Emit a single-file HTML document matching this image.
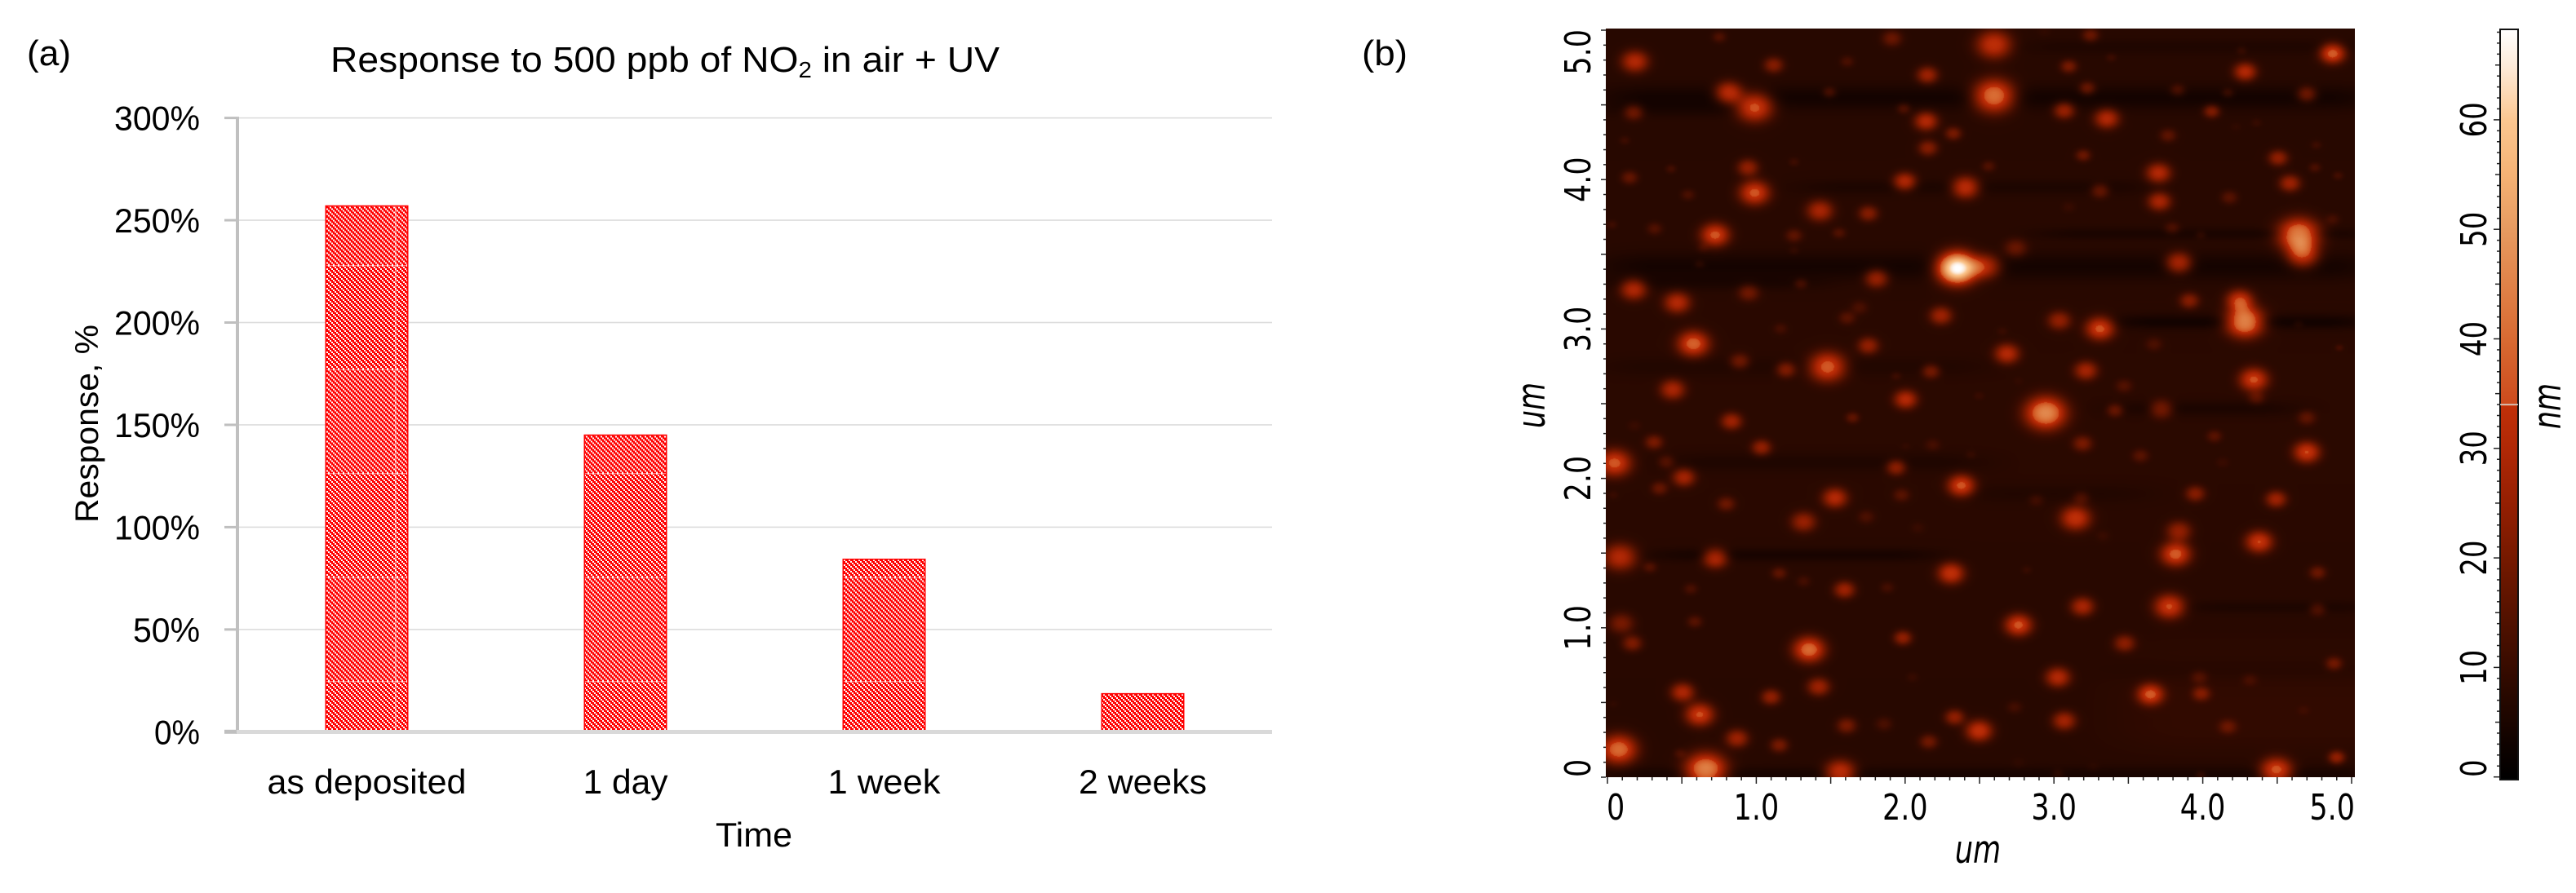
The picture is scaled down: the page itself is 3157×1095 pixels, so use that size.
<!DOCTYPE html>
<html lang="en">
<head>
<meta charset="utf-8">
<title>NO2 response and AFM height map</title>
<style>
html,body{margin:0;padding:0;background:#fff;}
#stage{position:relative;width:3157px;height:1095px;overflow:hidden;background:#fff;}
#afm-canvas{position:absolute;left:1968px;top:35px;width:918px;height:918px;}
#overlay{position:absolute;left:0;top:0;}
text{fill:#000;}
.cal{font-family:"Liberation Sans",sans-serif;}
.dv{font-family:"DejaVu Sans",sans-serif;}
</style>
</head>
<body>
<div id="stage">
<canvas id="afm-canvas" width="918" height="918"></canvas>
<svg id="overlay" width="3157" height="1095" viewBox="0 0 3157 1095" xmlns="http://www.w3.org/2000/svg">
<defs>
<pattern id="hatch" width="6" height="6" patternUnits="userSpaceOnUse">
<rect width="6" height="6" fill="#ff0000"/>
<rect x="0" y="0" width="2" height="2" fill="#fff"/>
<rect x="2" y="2" width="2" height="2" fill="#fff"/>
<rect x="4" y="4" width="2" height="2" fill="#fff"/>
</pattern>
<pattern id="hatch-seamed" x="0" y="70" width="1000" height="127.5" patternUnits="userSpaceOnUse">
<rect width="1000" height="127.5" fill="url(#hatch)"/>
<rect x="0" y="0" width="1000" height="1.2" fill="#fff" opacity="0.5"/>
<rect x="484" y="0" width="1.5" height="127.5" fill="#fff" opacity="0.5"/>
</pattern>
<linearGradient id="colorbar-gradient" x1="0" y1="1" x2="0" y2="0"></linearGradient>
</defs>
<text class="cal" x="33" y="80" font-size="44" textLength="54" lengthAdjust="spacingAndGlyphs">(a)</text>
<text class="cal" x="1669" y="80" font-size="44" textLength="56" lengthAdjust="spacingAndGlyphs">(b)</text>
<text class="cal" x="405" y="88" font-size="44" textLength="820" lengthAdjust="spacingAndGlyphs">Response to 500 ppb of NO<tspan font-size="28" dy="7">2</tspan><tspan dy="-7"> in air + UV</tspan></text>
<text class="cal" transform="translate(120,641) rotate(-90)" x="0" y="0" font-size="40" textLength="243" lengthAdjust="spacingAndGlyphs">Response, %</text>
<text class="cal" x="877" y="1038" font-size="42" textLength="94" lengthAdjust="spacingAndGlyphs">Time</text>
<text class="dv" font-style="italic" font-size="35" text-anchor="middle" transform="translate(2424,1058) scale(1,1.35)">um</text>
<text class="dv" font-style="italic" font-size="35" text-anchor="middle" transform="translate(1893,497) rotate(-90) scale(1,1.35)">um</text>
<text class="dv" font-style="italic" font-size="35" text-anchor="middle" transform="translate(3138,498) rotate(-90) scale(1,1.35)">nm</text>
<g id="bar-chart"></g>
<g id="afm-axes"></g>
<g id="colorbar"></g>
</svg>
</div>
<script>
// ---------- Panel (a) data ----------
const categories = ['as deposited', '1 day', '1 week', '2 weeks'];
const responsePercent = [257, 145, 84.3, 18.6];
const yTickValues = [0, 50, 100, 150, 200, 250, 300];
const yTickLabels = ['0%', '50%', '100%', '150%', '200%', '250%', '300%'];

// ---------- Panel (b) axis data ----------
const afmTickValues = [0, 1, 2, 3, 4, 5];
const afmTickLabels = ['0', '1.0', '2.0', '3.0', '4.0', '5.0'];
const colorbarTickValues = [0, 10, 20, 30, 40, 50, 60];
const colorbarTickLabels = ['0', '10', '20', '30', '40', '50', '60'];

// ---------- Colour scale (nm -> colour) ----------
const colorStopsNm = [0, 3, 5, 8, 10, 15, 20, 25, 30, 34, 34.01, 40, 45, 50, 55, 60, 65, 68.3];
const colorStopsHex = ['#000000', '#0e0200', '#1a0500', '#2a0900', '#360b00', '#551200', '#751900', '#941f02', '#b02806', '#c03008', '#cc4a1c', '#d86a32', '#e08248', '#e69a60', '#f5b274', '#fbc690', '#fdebda', '#ffffff'];

// ---------- AFM particles (um, um, nm, um) ----------
const spotX = [
.182,.813,.986,.173,.749,1.909,1.114,1.608,2.147,1.489,
1.988,2.138,2.321,2.151,.113,.941,.424,.146,1.251,.986,
.539,1.995,2.403,1.425,1.750,.721,.314,1.251,1.553,.027,
.639,1.251,2.348,.617,1.805,1.297,.173,.946,.466,1.690,
1.608,2.238,1.160,.575,1.750,.886,1.197,1.476,2.171,1.937,
.435,2.001,2.595,3.243,2.933,4.870,4.258,4.282,3.097,3.381,
2.595,3.222,3.828,4.166,4.696,3.066,3.353,4.057,4.358,4.221,
3.764,3.194,4.504,2.558,4.751,3.700,4.760,4.906,4.583,3.307,
3.706,4.176,3.097,4.870,3.792,3.984,4.642,4.669,2.741,3.837,
4.245,3.907,4.280,3.033,3.307,2.650,4.641,3.669,2.682,3.212,
4.340,3.468,2.759,4.915,.831,1.644,.179,.310,1.032,2.183,
2.001,.045,.393,.511,.347,.036,.795,1.937,2.375,1.526,
1.973,1.315,1.736,2.083,.082,.722,.283,1.151,1.315,2.306,
.557,1.590,1.878,.091,.584,.164,1.352,1.982,2.046,1.416,
.502,1.096,.617,2.330,1.604,1.855,.868,1.151,2.156,.073,
.484,.658,1.562,.036,2.942,3.408,3.719,4.358,4.696,2.494,
4.075,3.189,4.696,2.439,3.578,4.130,3.947,4.490,2.878,3.180,
3.143,3.837,4.376,3.326,3.815,2.814,4.769,3.189,3.773,2.759,
4.769,3.472,3.024,3.974,4.313,4.879,3.646,3.987,2.732,4.674,
3.066,2.494,4.166,2.759,3.262,3.024,3.984,4.492,4.897,2.540];
const spotY = [
4.793,4.584,4.489,4.453,4.957,4.947,4.769,4.793,4.702,4.587,
4.478,4.393,4.311,4.214,4.265,4.083,4.074,4.016,4.120,3.914,
3.901,3.989,3.950,3.794,3.776,3.632,3.674,3.628,3.646,3.701,
3.546,3.528,3.410,3.437,3.341,3.306,3.268,3.246,3.179,3.146,
3.077,3.092,3.004,2.904,2.891,2.786,2.731,2.749,2.719,2.688,
2.597,2.531,4.906,4.969,4.993,4.847,4.866,4.724,4.760,4.820,
4.562,4.614,4.602,4.584,4.574,4.465,4.411,4.460,4.383,4.356,
4.298,4.165,4.147,4.092,4.083,4.047,4.234,4.029,3.978,3.928,
3.856,3.883,3.819,3.737,3.677,3.632,3.632,3.495,3.543,3.446,
3.195,3.192,3.051,3.059,3.006,2.988,3.037,2.901,2.837,2.724,
2.664,2.622,2.655,2.877,2.385,2.409,2.355,2.245,2.209,2.227,
2.218,2.105,2.113,2.009,1.936,1.891,1.832,2.076,1.954,1.872,
1.891,1.712,1.745,1.672,1.476,1.468,1.408,1.368,1.314,1.367,
1.263,1.257,1.272,1.032,1.044,.899,.857,.935,.672,.608,
.571,.539,.422,.404,.348,.359,.262,.217,.240,.189,
.162,.053,.035,.493,2.440,2.458,2.467,2.542,2.409,2.555,
2.285,2.236,2.178,2.160,2.154,2.109,1.900,1.863,1.858,1.872,
1.736,1.650,1.578,1.618,1.496,1.390,1.372,1.145,1.145,1.021,
1.126,.899,.671,.671,.653,.763,.557,.562,.471,.450,
.380,.313,.340,.098,.071,.026,.017,.047,.135,3.420];
const spotHeightNm = [
30,33,38,20,14,18,22,13,26,15,
15,30,20,22,11,24,12,17,11,36,
13,30,33,28,22,36,14,16,14,11,
11,10,72,11,26,14,30,19,30,13,
15,26,12,38,24,19,22,38,20,11,
28,30,33,18,9,38,11,30,20,11,
44,19,15,13,21,26,30,22,10,9,
16,18,24,14,13,30,11,12,26,18,
28,15,10,12,14,11,46,32,18,30,
33,22,48,24,36,10,10,13,30,27,
35,14,9,12,26,16,10,20,24,12,
9,36,15,27,17,10,18,24,36,30,
15,25,13,10,30,30,14,16,12,33,
13,26,12,20,15,21,40,24,10,26,
29,24,35,24,20,13,26,20,19,40,
12,46,34,9,46,18,21,15,16,10,
15,20,34,10,15,10,22,26,12,14,
33,24,34,10,37,10,18,28,35,36,
15,23,30,14,12,19,36,21,12,10,
27,33,17,9,9,11,12,38,24,30];
const spotWidthUm = [
.18,.18,.24,.13,.09,.13,.13,.09,.14,.09,
.09,.155,.11,.13,.07,.14,.07,.11,.07,.2,
.09,.15,.18,.175,.13,.19,.10,.11,.09,.07,
.08,.07,.26,.07,.155,.09,.175,.14,.175,.11,
.11,.15,.09,.21,.14,.13,.13,.24,.12,.07,
.165,.155,.23,.11,.09,.165,.07,.15,.11,.07,
.27,.11,.10,.08,.13,.14,.165,.11,.07,.07,
.11,.10,.13,.09,.08,.165,.07,.07,.14,.12,
.155,.11,.09,.09,.10,.07,.27,.21,.15,.175,
.175,.13,.25,.155,.19,.07,.065,.11,.165,.155,
.19,.11,.07,.055,.14,.09,.09,.12,.13,.10,
.065,.22,.11,.15,.11,.07,.12,.13,.18,.165,
.11,.165,.11,.09,.22,.165,.09,.10,.09,.175,
.09,.14,.09,.165,.10,.13,.21,.12,.08,.15,
.155,.13,.19,.13,.13,.11,.15,.12,.12,.24,
.08,.27,.2,.065,.27,.11,.155,.11,.12,.07,
.10,.13,.175,.07,.11,.09,.13,.14,.10,.11,
.2,.165,.18,.09,.2,.065,.11,.155,.2,.18,
.11,.14,.165,.11,.10,.11,.175,.12,.10,.08,
.155,.175,.12,.09,.08,.08,.07,.21,.11,.2];

// Scan-line artefacts: dark horizontal bands (um, nm drop, um half-thickness, um extent)
const bandY = [4.89, 4.55, 4.47, 3.95, 3.64, 3.42, 3.31, 3.05, 2.75, 2.47, 2.11, 1.90, 1.49, 1.14, 0.72, 0.02];
const bandDropNm = [1.5, 3.5, 1.5, 2, 2.5, 3.5, 2, 4, 1.5, 2.5, 2, 1.5, 3, 2, 1, 3];
const bandHalfUm = [.05, .08, .05, .05, .04, .09, .05, .05, .06, .05, .06, .06, .045, .04, .07, .05];
const bandFromUm = [2.8, 0, 0, 1.3, 2.9, 0, 0, 3.4, 0, 3.4, .4, 2.4, .3, 3.9, 3.4, 0];
const bandToUm = [5.1, 5.1, 1.0, 3.6, 5.1, 5.1, 1.4, 5.1, 2.5, 4.6, 2.5, 3.6, 2.2, 5.1, 5.1, 5.1];
const backgroundNm = 7.6;

// ---------- Helpers ----------
const SVG_NS = 'http://www.w3.org/2000/svg';
function add(parent, tag, attrs, text) {
  const el = document.createElementNS(SVG_NS, tag);
  for (const k in attrs) el.setAttribute(k, attrs[k]);
  if (text !== undefined) el.textContent = text;
  parent.appendChild(el);
  return el;
}
function hexRgb(h) {
  return [parseInt(h.substr(1, 2), 16), parseInt(h.substr(3, 2), 16), parseInt(h.substr(5, 2), 16)];
}

// ---------- Panel (a): axis functions ----------
const yScale = v => 897.3 - v * (752.7 / 300);
const plotLeft = 291, plotRight = 1559;
const bandStep = (plotRight - plotLeft) / categories.length;
const xCenter = i => plotLeft + bandStep * (i + 0.5);
const barWidth = bandStep * 0.317;

const chart = document.getElementById('bar-chart');
yTickValues.forEach((v, i) => {
  if (v > 0) {
    const grid = add(chart, 'rect', { x: plotLeft, y: yScale(v) - 0.8, width: plotRight - plotLeft, height: 1.6, fill: '#dcdcdc' });
    
    
  }
  const label = add(chart, 'text', { class: 'cal', x: 245, y: yScale(v) + 15, 'font-size': 42, 'text-anchor': 'end', textLength: yTickLabels[i].length === 4 ? 105 : (yTickLabels[i].length === 3 ? 82 : 56), lengthAdjust: 'spacingAndGlyphs' }, yTickLabels[i]);
  
  
});
categories.forEach((c, i) => {
  const top = yScale(responsePercent[i]);
  const bar = add(chart, 'rect', { x: xCenter(i) - barWidth / 2, y: top, width: barWidth, height: yScale(0) - top, fill: 'url(#hatch-seamed)', stroke: '#ff0000', 'stroke-width': 1.5 });
  
  
  const widths = [244, 104, 138, 157];
  const label = add(chart, 'text', { class: 'cal', x: xCenter(i), y: 973, 'font-size': 42, 'text-anchor': 'middle', textLength: widths[i], lengthAdjust: 'spacingAndGlyphs' }, c);
  
  
});
yTickValues.forEach(v => {
  const tick = add(chart, 'rect', { x: 275, y: yScale(v) - (v === 0 ? 2.5 : 1.5), width: 15, height: v === 0 ? 5 : 3, fill: '#bfbfbf' });
  
  
});
const yAxisLine = add(chart, 'rect', { x: 289, y: yScale(300) - 1.5, width: 4, height: yScale(0) - yScale(300) + 4, fill: '#c0c0c0' });


const xAxisLine = add(chart, 'rect', { x: 290, y: yScale(0) - 2.3, width: plotRight - 290, height: 5, fill: '#d9d9d9' });



// ---------- Panel (b): axis functions ----------
const afmX = um => 1970 + um * 182.4;
const afmY = um => 953 - um * 183.2;
const barNmY = nm => 952.7 - nm * 13.43;

const afmAxes = document.getElementById('afm-axes');
for (let i = 0; i <= 50; i++) {
  const um = i / 10;
  const major = i % 5 === 0;
  const tx = add(afmAxes, 'rect', { x: afmX(um) - 0.75, y: 953, width: 1.5, height: major ? 8 : 4, fill: '#222' });
  
  
  const ty = add(afmAxes, 'rect', { x: major ? 1962 : 1965, y: afmY(um) - 0.75, width: major ? 6 : 3, height: 1.5, fill: '#222' });
  
  
}
afmTickValues.forEach((v, i) => {
  const first = i === 0, last = i === afmTickValues.length - 1;
  const px = first ? 1969 : (last ? 2886 : afmX(v));
  const xLabel = add(afmAxes, 'text', { class: 'dv', 'font-size': 35, 'text-anchor': first ? 'start' : (last ? 'end' : 'middle'), transform: 'translate(' + px + ',1005) scale(1,1.25)' }, afmTickLabels[i]);
  
  
  const py = first ? 953 : (last ? 36 : afmY(v));
  const yLabel = add(afmAxes, 'text', { class: 'dv', 'font-size': 35, 'text-anchor': first ? 'start' : (last ? 'end' : 'middle'), transform: 'translate(1949,' + py + ') rotate(-90) scale(1,1.25)' }, afmTickLabels[i]);
  
  
});

// ---------- Colour bar ----------
const colorbarMax = 68.3;
const gradient = document.getElementById('colorbar-gradient');
colorStopsNm.forEach((nm, i) => {
  const stop = add(gradient, 'stop', { offset: nm / colorbarMax, 'stop-color': colorStopsHex[i] });
  
  
});
const cbGroup = document.getElementById('colorbar');
const cbRect = add(cbGroup, 'rect', { x: 3064, y: 36, width: 22, height: 920, fill: 'url(#colorbar-gradient)', stroke: '#111', 'stroke-width': 2 });


const midLine = add(cbGroup, 'rect', { x: 3064, y: barNmY(34) - 0.8, width: 22, height: 1.6, fill: '#d8d0c8' });


for (let nm = 0; nm <= 68; nm++) {
  const len = nm % 10 === 0 ? 7 : (nm % 5 === 0 ? 5 : 3);
  const t = add(cbGroup, 'rect', { x: 3063 - len, y: barNmY(nm) - 0.75, width: len, height: 1.5, fill: '#222' });
  
  
}
colorbarTickValues.forEach((v, i) => {
  const first = i === 0;
  const py = first ? 953 : barNmY(v);
  const lab = add(cbGroup, 'text', { class: 'dv', 'font-size': 34, 'text-anchor': first ? 'start' : 'middle', transform: 'translate(3047,' + py + ') rotate(-90) scale(1,1.28)' }, colorbarTickLabels[i]);
  
  
});

// ---------- Height map ----------
(function drawHeightMap() {
  const canvas = document.getElementById('afm-canvas');
  const W = canvas.width, H = canvas.height;
  const ox = 1968, oy = 35;
  const field = new Float32Array(W * H);
  const pxToUmX = px => (px + ox - 1970) / 182.4;
  const pxToUmY = py => (953 - (py + oy)) / 183.2;
  const smooth = (e0, e1, v) => { const t = Math.min(1, Math.max(0, (v - e0) / (e1 - e0))); return t * t * (3 - 2 * t); };

  for (let r = 0; r < H; r++) {
    const yu = pxToUmY(r);
    const active = [];
    for (let b = 0; b < bandY.length; b++) {
      const d = (yu - bandY[b]) / bandHalfUm[b];
      if (Math.abs(d) < 3) active.push([b, bandDropNm[b] * Math.exp(-d * d)]);
    }
    const slow = 0.4 * Math.exp(-Math.pow((yu - 2.4) / 1.2, 2));
    for (let c = 0; c < W; c++) {
      const xu = pxToUmX(c);
      let h = backgroundNm + slow;
      for (let a = 0; a < active.length; a++) {
        const b = active[a][0];
        h -= active[a][1] * smooth(bandFromUm[b] - .3, bandFromUm[b] + .3, xu) * (1 - smooth(bandToUm[b] - .3, bandToUm[b] + .3, xu));
      }
      // faint raised patch at the lower right of the scan
      h += 1.6 * smooth(3.0, 3.9, xu) * (1 - smooth(0.45, 1.1, yu)) * smooth(0.05, 0.35, yu);
      field[r * W + c] = h;
    }
  }
  for (let i = 0; i < spotX.length; i++) {
    const cx = afmX(spotX[i]) - ox, cy = afmY(spotY[i]) - oy;
    const sx = spotWidthUm[i] * 182.4 / 2.7, sy = sx * 0.8;
    const amp = spotHeightNm[i] - backgroundNm;
    const x0 = Math.max(0, Math.floor(cx - 4 * sx)), x1 = Math.min(W - 1, Math.ceil(cx + 4 * sx));
    const y0 = Math.max(0, Math.floor(cy - 4 * sy)), y1 = Math.min(H - 1, Math.ceil(cy + 4 * sy));
    for (let r = y0; r <= y1; r++) {
      const dy = (r - cy) / sy;
      for (let c = x0; c <= x1; c++) {
        const dx = (c - cx) / sx;
        field[r * W + c] += amp * Math.exp(-0.5 * Math.pow(dx * dx + dy * dy, 1.15));
      }
    }
  }
  const lutSteps = 700;
  const lut = new Uint8Array((lutSteps + 1) * 3);
  const rgbStops = colorStopsHex.map(hexRgb);
  for (let i = 0; i <= lutSteps; i++) {
    const nm = i / 10;
    let s = 0;
    while (s < colorStopsNm.length - 2 && nm > colorStopsNm[s + 1]) s++;
    const t = Math.min(1, Math.max(0, (nm - colorStopsNm[s]) / (colorStopsNm[s + 1] - colorStopsNm[s])));
    for (let k = 0; k < 3; k++) lut[i * 3 + k] = rgbStops[s][k] + (rgbStops[s + 1][k] - rgbStops[s][k]) * t;
  }
  const ctx = canvas.getContext('2d');
  const img = ctx.createImageData(W, H);
  for (let p = 0; p < W * H; p++) {
    const idx = Math.max(0, Math.min(lutSteps, Math.round(field[p] * 10)));
    img.data[p * 4] = lut[idx * 3];
    img.data[p * 4 + 1] = lut[idx * 3 + 1];
    img.data[p * 4 + 2] = lut[idx * 3 + 2];
    img.data[p * 4 + 3] = 255;
  }
  ctx.putImageData(img, 0, 0);
})();
</script>
</body>
</html>
